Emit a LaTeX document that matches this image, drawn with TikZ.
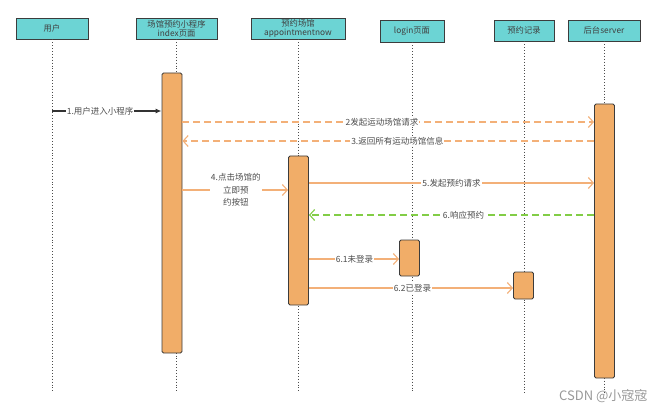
\documentclass[tikz,border=0pt]{standalone}
\usepackage{fontspec}
\setmainfont{Noto Sans CJK SC}
\usepackage{tikz}
\usepackage{xcolor}
\usetikzlibrary{arrows.meta,positioning,calc}
\definecolor{headTeal}{RGB}{108,212,212}
\definecolor{actOrange}{RGB}{241,173,104}
\definecolor{msgOrange}{RGB}{243,176,120}
\definecolor{respGreen}{RGB}{130,205,70}
\definecolor{edgeGray}{RGB}{60,60,60}
\tikzset{
    header/.style={rectangle, draw=edgeGray, line width=0.9pt, fill=headTeal, inner sep=0pt, text=black!75, align=center, font=\fontsize{8.3}{8.8}\selectfont},
    activation/.style={rectangle, rounded corners=1.5pt, draw=edgeGray, line width=0.9pt, fill=actOrange, minimum width=20pt, inner sep=0pt},
    lifeline/.style={dotted, line width=0.9pt, black!70},
    msg/.style={msgOrange, line width=1.1pt, -{Straight Barb[length=5pt,width=11pt]}},
    reply/.style={msg, dash pattern=on 7pt off 4pt},
    lbl/.style={fill=white, inner sep=1pt, text=black!70, align=center, font=\fontsize{8.5}{12.5}\selectfont}
}

\begin{document}
\begin{tikzpicture}[x=1pt, y=-1pt]
                    \useasboundingbox (0,0) rectangle (665,412);
                    % Headers
                    \node[header, minimum width=72pt, minimum height=21pt] (user) at (52,28.5) {用户};
                    \node[header, minimum width=81pt, minimum height=21pt] (mini) at (176.5,28.5) {场馆预约小程序\\index页面};
                    \node[header, minimum width=94pt, minimum height=21pt] (appt) at (298,28.5) {预约场馆\\appointmentnow};
                    \node[header, minimum width=64pt, minimum height=22pt] (login) at (412,31) {login页面};
                    \node[header, minimum width=60pt, minimum height=21pt] (record) at (524,30.5) {预约记录};
                    \node[header, minimum width=72pt, minimum height=21pt] (server) at (604,30.5) {后台server};

                    % Lifelines
                    \coordinate (bottom) at (0,393);
                    \foreach \n in {user,mini,appt,login,record,server} {
                        \draw[lifeline] (\n.south) -- (\n.south |- bottom);
                    }

                    % Activations
                    \node[activation, minimum height=280pt] (actMini) at (172,213) {};
                    \node[activation, minimum height=149pt] (actAppt) at (298.5,230.5) {};
                    \node[activation, minimum height=36pt] (actLogin) at (409.5,258) {};
                    \node[activation, minimum height=27pt] (actRecord) at (523.5,285.5) {};
                    \node[activation, minimum height=274pt] (actServer) at (604.5,241) {};

                    % Messages
                    \draw[black!80, line width=1.1pt, -{Latex[length=6pt,width=5pt]}] (user.south |- 0,111) -- node[lbl, pos=0.44] {1.用户进入小程序} (actMini.west |- 0,111);
                    \draw[reply] (actMini.east |- 0,122) -- node[lbl, pos=0.485] {2发起运动场馆请求} (actServer.west |- 0,122);
                    \draw[reply] (actServer.west |- 0,141) -- node[lbl, pos=0.478] {3.返回所有运动场馆信息} (actMini.east |- 0,141);
                    \draw[msg] (actMini.east |- 0,190) -- node[lbl, pos=0.505] {4.点击场馆的\\立即预\\约按钮} (actAppt.west |- 0,190);
                    \draw[msg] (actAppt.east |- 0,183) -- node[lbl, pos=0.5] {5.发起预约请求} (actServer.west |- 0,183);
                    \draw[reply, respGreen] (actServer.west |- 0,215) -- node[lbl, pos=0.458] {6.响应预约} (actAppt.east |- 0,215);
                    \draw[msg] (actAppt.east |- 0,259) -- node[lbl, pos=0.505] {6.1未登录} (actLogin.west |- 0,259);
                    \draw[msg] (actAppt.east |- 0,288) -- node[lbl, pos=0.507] {6.2已登录} (actRecord.west |- 0,288);

                    % Watermark
                    \node[anchor=east, text=black!40, font=\fontsize{13}{14}\selectfont] (mark) at (651,396) {CSDN @小宼宼};
                \end{tikzpicture}
\end{document}
